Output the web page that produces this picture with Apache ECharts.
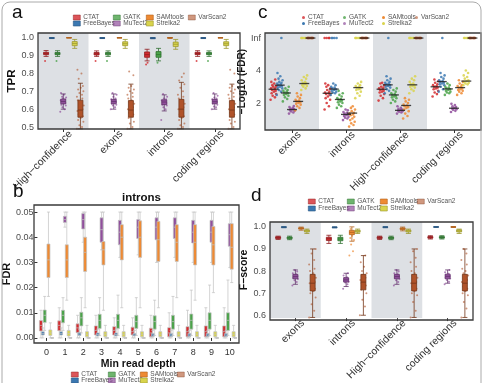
<!DOCTYPE html>
<html><head><meta charset="utf-8">
<script src="https://cdn.jsdelivr.net/npm/echarts@6/dist/echarts.min.js"></script>
<style>html,body{margin:0;padding:0;background:#fff}#c{width:484px;height:383px}</style>
</head><body><div id="c"></div>
<script>
const I = Infinity;
const tools = ['CTAT','FreeBayes','GATK','MuTect2','SAMtools','Strelka2','VarScan2'];
const fillColors = ['#d32b2f','#3b78b1','#4ba34a','#904f9c','#ee8a33','#d9d44c','#b0532a'];
const edgeColors = ['#8f1d20','#2a5783','#2f7030','#62336b','#b3621c','#9c9830','#733619'];
const regionsA = ['High\u2212confidence','exons','introns','coding regions'];
const regionsCD = ['exons','introns','High\u2212confidence','coding regions'];
const depths = ['0','1','2','3','4','5','6','7','8','9','10'];
const ticksTPR = [0.5,0.6,0.7,0.8,0.9,1.0];
const ticksFDR = [0,0.01,0.02,0.03,0.04,0.05];
const ticksLogFDR = [2,4,I];
const ticksF = [0.6,0.7,0.8,0.9,1.0];

// ---- panel a: TPR box stats [min,q1,median,q3,max] per tool ----
const tprHighConf = [[0.895,0.905,0.912,0.918,0.928],[0.995,0.997,0.998,0.999,1.0],[0.895,0.905,0.91,0.917,0.927],[0.60,0.63,0.643,0.656,0.685],[0.998,0.999,1.0,1.0,1.0],[0.94,0.955,0.967,0.978,0.99],[0.49,0.555,0.595,0.65,0.745]];
const tprExons    = [[0.895,0.903,0.91,0.917,0.926],[0.995,0.997,0.998,0.999,1.0],[0.895,0.904,0.91,0.917,0.926],[0.60,0.63,0.643,0.655,0.685],[0.998,0.999,1.0,1.0,1.0],[0.94,0.955,0.966,0.977,0.99],[0.49,0.555,0.595,0.648,0.74]];
const tprIntrons  = [[0.87,0.89,0.905,0.92,0.935],[0.994,0.996,0.998,0.999,1.0],[0.87,0.89,0.905,0.922,0.94],[0.59,0.625,0.64,0.652,0.68],[0.996,0.998,1.0,1.0,1.0],[0.935,0.95,0.963,0.975,0.99],[0.49,0.555,0.6,0.655,0.75]];
const tprCoding   = [[0.895,0.905,0.911,0.918,0.927],[0.995,0.997,0.998,0.999,1.0],[0.895,0.905,0.91,0.917,0.926],[0.60,0.63,0.642,0.655,0.685],[0.998,0.999,1.0,1.0,1.0],[0.94,0.955,0.966,0.977,0.99],[0.49,0.555,0.595,0.648,0.74]];
const tprPtsCTAT = [[0.87],[0.87],[0.85,0.86],[0.87]];
const tprPtsGATK = [[0.87],[0.87],[0.86],[0.87]];
const tprPtsMuTect2 = [
  [0.585,0.6,0.61,0.62,0.625,0.63,0.635,0.64,0.645,0.65,0.655,0.66,0.665,0.67,0.68,0.69],
  [0.6,0.61,0.62,0.625,0.63,0.635,0.64,0.645,0.65,0.655,0.66,0.67,0.68,0.69],
  [0.54,0.6,0.61,0.62,0.625,0.63,0.635,0.64,0.645,0.65,0.655,0.66,0.67,0.685],
  [0.6,0.61,0.615,0.625,0.63,0.635,0.64,0.645,0.65,0.655,0.66,0.665,0.675,0.69]];
const tprPtsVarScan2 = [
  [0.49,0.5,0.51,0.53,0.54,0.55,0.56,0.57,0.58,0.59,0.6,0.61,0.62,0.63,0.64,0.65,0.66,0.67,0.68,0.69,0.7,0.71,0.72,0.73,0.77,0.8,0.82],
  [0.49,0.5,0.52,0.53,0.55,0.56,0.57,0.58,0.59,0.6,0.61,0.62,0.63,0.64,0.65,0.66,0.67,0.68,0.69,0.7,0.71,0.72,0.73,0.79,0.81],
  [0.49,0.5,0.51,0.52,0.54,0.55,0.56,0.57,0.58,0.6,0.61,0.62,0.63,0.64,0.65,0.66,0.67,0.68,0.7,0.72,0.74,0.76,0.78,0.8],
  [0.49,0.5,0.52,0.53,0.54,0.56,0.57,0.58,0.59,0.6,0.61,0.62,0.63,0.64,0.65,0.66,0.67,0.68,0.69,0.7,0.71,0.72,0.73,0.8,0.82]];

// ---- panel b: introns FDR box stats per min read depth ----
const fdrCTAT = [[0,0.0028,0.005,0.0069,0.011],[0,0.0029,0.005,0.0068,0.012],[0,0.0021,0.004,0.0056,0.009],[0,0.0012,0.003,0.0048,0.009],[0,0.0012,0.003,0.0045,0.008],[0,0.0012,0.0025,0.0043,0.008],[0,0.0005,0.002,0.0039,0.009],[0,0.0005,0.002,0.0041,0.01],[0,0.0005,0.0025,0.0045,0.011],[0,0.0005,0.0025,0.0048,0.012],[0,0.0005,0.0025,0.0048,0.012]];
const fdrFreeBayes = [[0,0.0012,0.0018,0.0025,0.004],[0,0.0012,0.0018,0.0025,0.004],[0,0.001,0.0016,0.0022,0.0035],[0,0.0008,0.0014,0.002,0.0035],[0,0.0008,0.0014,0.002,0.0035],[0,0.0008,0.0012,0.0018,0.003],[0,0.0006,0.0012,0.0018,0.003],[0,0.0006,0.0012,0.0018,0.003],[0,0.0006,0.0012,0.0018,0.003],[0,0.0006,0.0012,0.0018,0.003],[0,0.0006,0.0012,0.0018,0.003]];
const fdrGATK = [[0.003,0.0061,0.009,0.0111,0.0165],[0.003,0.006,0.009,0.011,0.016],[0.002,0.0048,0.008,0.0102,0.016],[0.001,0.0038,0.007,0.0094,0.016],[0.001,0.0038,0.007,0.0094,0.017],[0.001,0.0038,0.0065,0.009,0.016],[0.001,0.0035,0.0065,0.0088,0.015],[0.001,0.0035,0.0065,0.009,0.0165],[0.001,0.0035,0.007,0.0095,0.019],[0.001,0.0035,0.007,0.01,0.021],[0.001,0.003,0.007,0.01,0.023]];
const fdrMuTect2 = ['-',[0.044,0.0459,0.047,0.0483,0.05],[0.038,0.0433,0.047,0.0494,0.05],[0.035,0.038,0.043,0.0477,0.05],[0.032,0.037,0.042,0.0467,0.05],[0.033,0.0395,0.044,0.047,0.05],[0.03,0.039,0.044,0.0477,0.05],[0.032,0.0395,0.044,0.0477,0.05],[0.03,0.0377,0.042,0.0467,0.05],[0.03,0.038,0.042,0.0467,0.05],[0.028,0.0364,0.041,0.0454,0.05]];
const fdrSAMtools = [[0.0165,0.024,0.031,0.0373,0.05],[0.015,0.024,0.031,0.037,0.05],[0.012,0.0264,0.034,0.04,0.05],[0.011,0.029,0.035,0.0383,0.05],[0.012,0.031,0.04,0.045,0.05],[0.012,0.032,0.04,0.0465,0.05],[0.012,0.0304,0.039,0.0463,0.05],[0.016,0.0304,0.038,0.045,0.05],[0.015,0.029,0.038,0.045,0.05],[0.018,0.029,0.037,0.0443,0.05],[0.022,0.0273,0.036,0.0454,0.05]];
const fdrStrelka2 = [[0,0.001,0.002,0.0032,0.006],[0,0.0008,0.0018,0.003,0.005],[0,0.0005,0.0015,0.0025,0.005],[0,0.0005,0.0015,0.0025,0.005],[0,0.0005,0.0015,0.0025,0.005],[0,0.0005,0.0015,0.0025,0.005],[0,0.0005,0.0015,0.0025,0.005],[0,0.0005,0.0015,0.0025,0.005],[0,0.0005,0.0015,0.0025,0.005],[0,0.0005,0.0015,0.0025,0.005],[0,0.0005,0.0015,0.0025,0.005]];
const fdrVarScan2 = [[0,0,0,0,0],[0,0,0,0,0],[0,0,0,0,0],[0,0,0,0,0],[0,0,0,0,0],[0,0,0,0,0],[0,0,0,0,0],[0,0,0,0,0],[0,0,0,0,0],[0,0,0,0,0],[0,0,0,0,0]];

// ---- panel c: -log10(FDR) per sample, per tool ----
const logFdrExons = [
  [2.2,2.35,2.45,2.55,2.6,2.7,2.75,2.8,2.85,2.9,2.95,3.0,3.05,3.1,3.2,3.3,3.45],
  [2.5,2.7,2.8,2.9,2.95,3.0,3.05,3.1,3.15,3.2,3.25,3.3,3.4,3.5,3.65,3.85,I],
  [2.1,2.25,2.35,2.45,2.5,2.55,2.6,2.65,2.7,2.75,2.8,2.9,3.0],
  [1.35,1.42,1.48,1.52,1.56,1.6,1.63,1.66,1.7,1.75,1.82],
  [1.55,1.7,1.8,1.9,1.95,2.0,2.05,2.1,2.15,2.2,2.3,2.4,2.5,2.6],
  [2.8,2.9,3.0,3.05,3.1,3.15,3.2,3.25,3.3,3.4,3.5,3.6,3.7,I,I,I,I,I],
  [I,I,I,I,I,I,I,I,I,I]];
const logFdrIntrons = [
  [1.6,1.8,2.0,2.2,2.3,2.4,2.5,2.55,2.6,2.65,2.7,2.8,2.9,3.0,3.1,3.2,I,I,I,I],
  [2.5,2.6,2.65,2.7,2.75,2.8,2.85,2.9,2.95,3.0,3.1,3.2,I,I,I,I],
  [1.7,1.8,1.9,2.0,2.05,2.1,2.15,2.2,2.25,2.3,2.4,2.5,2.6,2.75],
  [0.95,1.05,1.1,1.15,1.2,1.25,1.3,1.35,1.4,1.45,1.55,1.6],
  [0.55,0.65,0.75,0.85,0.95,1.05,1.15,1.25,1.3,1.35,1.4,1.5,1.6,1.7,1.8],
  [2.3,2.45,2.6,2.7,2.8,2.85,2.9,2.95,3.0,3.05,3.1,3.2,3.3,I,I,I,I,I],
  [I,I,I,I,I,I,I,I,I,I]];
const logFdrHighConf = [
  [2.15,2.3,2.45,2.55,2.65,2.7,2.75,2.8,2.85,2.9,2.95,3.0,3.1,3.2,3.25],
  [2.6,2.75,2.85,2.95,3.0,3.05,3.1,3.15,3.2,3.25,3.3,3.4,3.5,3.65,I],
  [2.0,2.1,2.2,2.3,2.35,2.4,2.45,2.5,2.55,2.6,2.7,2.8,2.9],
  [1.35,1.42,1.46,1.5,1.53,1.56,1.6,1.65,1.7,1.8],
  [1.05,1.2,1.35,1.5,1.6,1.7,1.75,1.8,1.85,1.9,2.0,2.1,2.2,2.3],
  [2.6,2.75,2.85,2.95,3.0,3.05,3.1,3.15,3.2,3.3,3.4,3.5,3.65,I,I,I,I,I],
  [I,I,I,I,I,I,I,I,I,I]];
const logFdrCoding = [
  [2.4,2.55,2.65,2.75,2.85,2.9,2.95,3.0,3.05,3.1,3.15,3.25,3.35,3.45],
  [2.7,2.85,3.0,3.1,3.15,3.2,3.25,3.3,3.35,3.4,3.5,3.6,3.7,3.85,I],
  [2.5,2.6,2.65,2.7,2.75,2.8,2.85,2.9,2.95,3.0,3.1,3.2],
  [1.45,1.52,1.58,1.62,1.66,1.7,1.75,1.8,1.88,1.95],
  [2.5,2.6,2.7,2.75,2.8,2.85,2.9,2.95,3.0,3.05,3.1,3.2,3.3,3.4],
  [3.1,3.15,3.2,3.25,3.3,3.35,3.4,3.5,3.6,3.7,3.85,4.0,I,I,I,I,I],
  [I,I,I,I,I,I,I,I,I,I]];
const logFdrMedExons    = [2.85,3.1,2.62,1.6,2.1,3.2,I];
const logFdrMedIntrons  = [2.6,2.86,2.22,1.3,1.38,2.95,I];
const logFdrMedHighConf = [2.85,3.12,2.5,1.55,1.85,3.12,I];
const logFdrMedCoding   = [3.0,3.32,2.87,1.68,2.95,3.35,I];

// ---- panel d: F-score box stats per tool ----
const fExons    = [[0.943,0.947,0.951,0.955,0.958],[0.996,0.998,0.999,1.0,1.0],[0.942,0.946,0.95,0.954,0.958],[0.74,0.765,0.775,0.785,0.805],[0.985,0.99,0.993,0.996,0.999],[0.97,0.977,0.982,0.986,0.99],[0.59,0.71,0.745,0.785,0.9]];
const fIntrons  = [[0.925,0.938,0.946,0.953,0.962],[0.995,0.997,0.998,0.999,1.0],[0.925,0.937,0.945,0.953,0.962],[0.73,0.75,0.76,0.77,0.79],[0.935,0.965,0.975,0.984,1.0],[0.97,0.976,0.981,0.985,0.99],[0.6,0.715,0.75,0.785,0.87]];
const fHighConf = [[0.943,0.947,0.951,0.955,0.958],[0.996,0.998,0.999,1.0,1.0],[0.942,0.946,0.95,0.954,0.958],[0.74,0.765,0.775,0.785,0.805],[0.982,0.988,0.992,0.995,0.999],[0.97,0.977,0.982,0.986,0.99],[0.59,0.71,0.745,0.785,0.9]];
const fCoding   = [[0.945,0.949,0.953,0.956,0.96],[0.998,0.999,1.0,1.0,1.0],[0.945,0.949,0.952,0.956,0.96],[0.745,0.765,0.776,0.786,0.805],[0.998,0.999,1.0,1.0,1.0],[0.97,0.977,0.982,0.987,0.99],[0.59,0.71,0.745,0.785,0.9]];
const fPtsMuTect2 = [
  [0.735,0.75,0.758,0.764,0.768,0.772,0.776,0.78,0.785,0.79,0.798,0.805],
  [0.72,0.74,0.748,0.752,0.756,0.76,0.764,0.768,0.772,0.78,0.79],
  [0.735,0.75,0.758,0.764,0.768,0.772,0.776,0.78,0.785,0.79,0.798,0.805],
  [0.74,0.752,0.76,0.766,0.77,0.774,0.778,0.782,0.788,0.795,0.805]];
const fPtsVarScan2 = [
  [0.59,0.62,0.65,0.68,0.7,0.71,0.72,0.73,0.74,0.745,0.75,0.76,0.77,0.78,0.79,0.8,0.81,0.83,0.85,0.88,0.9],
  [0.6,0.64,0.67,0.7,0.715,0.725,0.735,0.745,0.75,0.76,0.77,0.78,0.79,0.8,0.82,0.84,0.87],
  [0.59,0.62,0.66,0.69,0.7,0.71,0.72,0.73,0.74,0.745,0.75,0.76,0.77,0.78,0.79,0.8,0.82,0.84,0.86,0.89,0.9],
  [0.59,0.63,0.66,0.69,0.7,0.71,0.72,0.73,0.74,0.75,0.76,0.77,0.78,0.79,0.8,0.81,0.83,0.85,0.88,0.9]];
const fPtsSAMtools = [[],[0.87,0.89,0.92,0.94,0.95,0.96,0.97,0.99],[],[]];

// ================= layout =================
const grids = [
  {left:38, top:33, width:202, height:96},
  {left:34, top:205, width:205, height:138},
  {left:265, top:33, width:216, height:97},
  {left:270, top:222, width:203, height:98}
];
const INF_ROW = 6;
const JIT = [-1,0.45,-0.3,0.85,-0.65,0.1,0.7,-0.5,0.3,-0.85,0.6,-0.15,0.95,-0.4,0.2,-0.75,0.55];
const FONT = 'Liberation Sans, Arial, sans-serif';
const NAME_STYLE = {fontSize:11, fontWeight:'bold', color:'#111', fontFamily:FONT};

function dodgeUnits(t, bandPx){
  const avail = bandPx*0.8-2, gap = avail/7*0.3, bw = (avail-gap*6)/7;
  return (bw/2 - avail/2 + t*(gap+bw))/bandPx;
}
const mapInf = v => (v === I ? INF_ROW : v);

function pointSeries(name, t, groups, xi, yi, bandPx, ampPx, size, opacity, extra){
  const data = [];
  groups.forEach((vals, g) => vals.forEach((v, i) => {
    data.push([g + dodgeUnits(t, bandPx) + JIT[i % JIT.length]*ampPx/bandPx, mapInf(v)]);
  }));
  return Object.assign({type:'scatter', name, xAxisIndex:xi, yAxisIndex:yi, data,
    symbolSize:size, silent:true, itemStyle:{color:fillColors[t], opacity}, z:2}, extra||{});
}
const shade = {silent:true, itemStyle:{color:'#dde0e4'}, data:[[{xAxis:-0.5},{xAxis:0.5}],[{xAxis:1.5},{xAxis:2.5}]]};

const catAxis = (gi, data, rotate) => ({type:'category', gridIndex:gi, data,
  axisLine:{show:false}, axisTick:{show:true, alignWithLabel:true, length:3, lineStyle:{color:'#333'}},
  axisLabel: rotate
    ? {interval:0, rotate, fontSize:10.5, color:'#333', margin:3, verticalAlign:'top', padding:[0,-5,0,0], fontFamily:FONT}
    : {interval:0, fontSize:9, color:'#333', margin:5, fontFamily:FONT}});
const hiddenVal = gi => ({type:'value', gridIndex:gi, min:-0.5, max:3.5, show:false});
const valAxis = (gi, min, max, ticks, fmt, name, gap, nameSize) => ({type:'value', gridIndex:gi, min, max,
  name, nameLocation:'middle', nameGap:gap,
  nameTextStyle:Object.assign({}, NAME_STYLE, {fontSize:nameSize||11}),
  axisLine:{show:false}, splitLine:{show:false},
  axisTick:{show:true, length:3, lineStyle:{color:'#333'}, customValues:ticks.map(mapInf)},
  axisLabel:{fontSize:9, color:'#4d4d4d', margin:4, fontFamily:FONT, customValues:ticks.map(mapInf), formatter:fmt}});

const xAxis = [
  catAxis(0, regionsA, 45), hiddenVal(0),
  Object.assign(catAxis(1, depths, 0), {name:'Min read depth', nameLocation:'middle', nameGap:16,
     nameTextStyle:Object.assign({}, NAME_STYLE, {fontSize:10.5})}),
  catAxis(2, regionsCD, 45), hiddenVal(2),
  catAxis(3, regionsCD, 45), hiddenVal(3)
];
const yAxis = [
  valAxis(0, 0.489, 1.026, ticksTPR, v => v.toFixed(1), 'TPR', 17, 11.5),
  valAxis(1, -0.002, 0.0528, ticksFDR, v => v.toFixed(2), 'FDR', 18, 11),
  valAxis(2, 0.34, 6.31, ticksLogFDR, v => (v === INF_ROW ? 'Inf' : String(v)), '\u2212Log10 (FDR)', 9, 10),
  valAxis(3, 0.587, 1.022, ticksF, v => v.toFixed(1), 'F\u2212score', 13, 10.5)
];

const series = [];
const bandA = grids[0].width/4, bandC = grids[2].width/4, bandD = grids[3].width/4;

// panel a
const tprRegions = [tprHighConf, tprExons, tprIntrons, tprCoding];
series.push(pointSeries('CTAT', 0, tprPtsCTAT, 1, 0, bandA, 1, 2, 0.8, {markArea:shade}));
series.push(pointSeries('GATK', 2, tprPtsGATK, 1, 0, bandA, 1, 2, 0.8));
series.push(pointSeries('MuTect2', 3, tprPtsMuTect2, 1, 0, bandA, 3, 2, 0.7));
series.push(pointSeries('VarScan2', 6, tprPtsVarScan2, 1, 0, bandA, 3.5, 2, 0.6));
tools.forEach((name, t) => series.push({type:'boxplot', name, xAxisIndex:0, yAxisIndex:0,
  data: tprRegions.map(r => r[t]), boxWidth:[5,5], silent:true, z:3,
  itemStyle:{color:fillColors[t], borderColor:edgeColors[t], borderWidth:0.8}}));

// panel b
const fdrByTool = [fdrCTAT, fdrFreeBayes, fdrGATK, fdrMuTect2, fdrSAMtools, fdrStrelka2, fdrVarScan2];
tools.forEach((name, t) => series.push({type:'boxplot', name, xAxisIndex:2, yAxisIndex:1,
  data: fdrByTool[t], boxWidth:[3,3], silent:true, z:3,
  itemStyle:{color:fillColors[t], borderColor:'#c2c2c2', borderWidth:0.7}}));

// panel c
const logRegions = [logFdrExons, logFdrIntrons, logFdrHighConf, logFdrCoding];
const logMeds = [logFdrMedExons, logFdrMedIntrons, logFdrMedHighConf, logFdrMedCoding];
tools.forEach((name, t) => series.push(pointSeries(name, t, logRegions.map(r => r[t]), 4, 2, bandC, 3, 2.6, 0.85,
  t === 0 ? {markArea:shade} : null)));
const medData = [];
logMeds.forEach((m, g) => m.forEach((v, t) => medData.push([g + dodgeUnits(t, bandC), mapInf(v)])));
series.push({type:'scatter', name:'median', xAxisIndex:4, yAxisIndex:2, data:medData, symbol:'rect',
  symbolSize:[10,1.3], silent:true, itemStyle:{color:'#1a1a1a'}, z:5});

// panel d
const fRegions = [fExons, fIntrons, fHighConf, fCoding];
series.push(pointSeries('MuTect2', 3, fPtsMuTect2, 6, 3, bandD, 3, 2, 0.7, {markArea:shade}));
series.push(pointSeries('VarScan2', 6, fPtsVarScan2, 6, 3, bandD, 3.5, 2, 0.6));
series.push(pointSeries('SAMtools', 4, fPtsSAMtools, 6, 3, bandD, 2.5, 2, 0.7));
tools.forEach((name, t) => series.push({type:'boxplot', name, xAxisIndex:5, yAxisIndex:3,
  data: fRegions.map(r => r[t]), boxWidth:[5,5], silent:true, z:3,
  itemStyle:{color:fillColors[t], borderColor:edgeColors[t], borderWidth:0.8}}));

// legends: column-major, 2 rows
const legendLayouts = [
  {cols:[73,113,146,188], rows:[18,24], icon:'rect', w:7, h:5},
  {cols:[71,108,140,177], rows:[375,381], icon:'rect', w:7, h:5},
  {cols:[302,343,382,415], rows:[18,24], icon:'circle', w:3, h:3},
  {cols:[308,347,380,417], rows:[202,209], icon:'rect', w:7, h:5}
];
const legend = [];
legendLayouts.forEach(L => tools.forEach((name, t) => {
  legend.push({data:[{name, icon:L.icon, itemStyle:{color:fillColors[t], borderColor:edgeColors[t], borderWidth:L.icon==='rect'?0.6:0}}],
    left: L.cols[Math.floor(t/2)], top: L.rows[t%2]-4, itemWidth:L.w, itemHeight:L.h, padding:0, itemGap:0,
    selectedMode:false, textStyle:{fontSize:6.5, color:'#555', fontFamily:FONT, padding:[0,0,0,-2]}});
}));

const graphic = [
  {type:'rect', shape:{x:2, y:2, width:479, height:400, r:8}, style:{fill:'none', stroke:'#aaa', lineWidth:1}, z:200, silent:true},
  {type:'text', left:12, top:3, style:{text:'a', font:'19px '+FONT, fill:'#111'}, z:200},
  {type:'text', left:13, top:182, style:{text:'b', font:'19px '+FONT, fill:'#111'}, z:200},
  {type:'text', left:258, top:3, style:{text:'c', font:'19px '+FONT, fill:'#111'}, z:200},
  {type:'text', left:251, top:186, style:{text:'d', font:'19px '+FONT, fill:'#111'}, z:200},
  {type:'text', left:122, top:192, style:{text:'introns', font:'bold 11.5px '+FONT, fill:'#111'}, z:200}
];
grids.forEach(g => graphic.push({type:'rect', shape:{x:g.left, y:g.top, width:g.width, height:g.height},
  style:{fill:'none', stroke:'#3a3a3a', lineWidth:1.3}, z:150, silent:true}));

const chart = echarts.init(document.getElementById('c'), null, {renderer:'canvas'});
chart.setOption({
  animation:false,
  textStyle:{fontFamily:FONT},
  grid: grids.map(g => Object.assign({show:true, backgroundColor:'#fff', borderWidth:0}, g)),
  xAxis, yAxis, series, legend, graphic
});
</script></body></html>
